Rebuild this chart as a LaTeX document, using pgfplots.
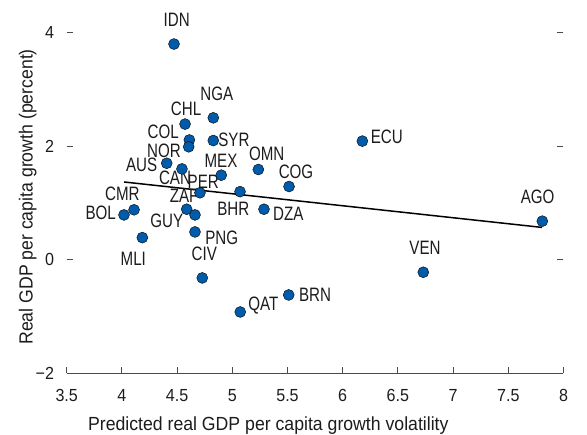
\documentclass[border=0pt]{standalone}
\usepackage{fontspec}
\setmainfont{Liberation Sans}
\newfontfamily\lblfont{Liberation Sans}[FakeStretch=0.78]
\newfontfamily\axlblfont{Liberation Sans}[FakeStretch=0.93]
\newfontfamily\tickfont{Liberation Sans}[FakeStretch=0.92]
\usepackage{pgfplots}
\pgfplotsset{compat=1.18}
\definecolor{dotblue}{RGB}{0,91,170}
\definecolor{txt}{RGB}{30,27,28}
\definecolor{axgray}{RGB}{75,75,75}
\newcommand{\lbl}[3]{\node[font=\lblfont\fontsize{19.4}{21}\selectfont, text=txt, inner sep=0pt] at (axis cs:#1,#2) {#3};}
\begin{document}
\begin{tikzpicture}
\path[use as bounding box] (-66.7pt,-61.7pt) rectangle (520.3pt,373.3pt);
\begin{axis}[
  scale only axis, width=496.8pt, height=369pt,
  xmin=3.5, xmax=8, ymin=-2, ymax=4.5,
  clip=false,
  axis x line=bottom, axis y line=box,
  x axis line style={-, draw=axgray, line width=1.2pt},
  y axis line style={draw=none},
  tick align=inside, major tick length=6pt,
  tick style={axgray, line width=1.1pt},
  xtick={3.5,4,4.5,5,5.5,6,6.5,7,7.5,8},
  xticklabels={3.5,4,4.5,5,5.5,6,6.5,7,7.5,8},
  ytick={-2,0,2,4}, yticklabels={{−2},0,2,4},
  xticklabel style={anchor=base, inner sep=0pt, yshift=-28.5pt, font=\tickfont\fontsize{17.5}{19}\selectfont, text=txt},
  yticklabel style={anchor=east, inner sep=0pt, xshift=-12.4pt, font=\tickfont\fontsize{17.5}{19}\selectfont, text=txt},
  every axis x label/.style={at={(axis description cs:0.4058,-0.1537)}, anchor=base, font=\axlblfont\fontsize{19}{21}\selectfont, text=txt, inner sep=0pt},
  every axis y label/.style={at={(axis description cs:-0.0684,0.478)}, rotate=90, anchor=base, font=\axlblfont\fontsize{19}{21}\selectfont, text=txt, inner sep=0pt},
  xlabel={Predicted real GDP per capita growth volatility},
  ylabel={Real GDP per capita growth (percent)},
]
\addplot[black, line width=1.5pt] coordinates {(4.019,1.37) (7.805,0.57)};
\addplot[only marks, mark=*, mark size=5.5pt, mark options={draw=none, fill=dotblue}] table {
x y
4.472 3.80
4.828 2.50
4.572 2.39
4.611 2.11
4.605 1.99
4.828 2.10
4.406 1.70
4.544 1.60
4.900 1.49
5.236 1.59
5.514 1.29
4.707 1.18
5.070 1.20
4.110 0.88
4.019 0.79
4.587 0.89
4.662 0.79
5.287 0.89
4.185 0.39
4.662 0.49
4.728 -0.32
5.072 -0.92
5.511 -0.62
6.178 2.09
7.808 0.68
6.730 -0.22
};
\lbl{4.496}{4.22}{IDN}
\lbl{4.859}{2.92}{NGA}
\lbl{4.581}{2.66}{CHL}
\lbl{4.375}{2.25}{COL}
\lbl{4.381}{1.92}{NOR}
\lbl{5.015}{2.11}{SYR}
\lbl{4.179}{1.67}{AUS}
\lbl{4.481}{1.44}{CAN}
\lbl{4.898}{1.74}{MEX}
\lbl{5.312}{1.86}{OMN}
\lbl{5.577}{1.55}{COG}
\lbl{4.737}{1.37}{PER}
\lbl{4.563}{1.12}{ZAF}
\lbl{4.004}{1.17}{CMR}
\lbl{3.808}{0.82}{BOL}
\lbl{4.406}{0.69}{GUY}
\lbl{5.009}{0.89}{BHR}
\lbl{5.507}{0.81}{DZA}
\lbl{4.103}{0.01}{MLI}
\lbl{4.904}{0.39}{PNG}
\lbl{4.746}{0.10}{CIV}
\lbl{5.281}{-0.81}{QAT}
\lbl{5.749}{-0.62}{BRN}
\lbl{6.399}{2.17}{ECU}
\lbl{7.766}{1.11}{AGO}
\lbl{6.746}{0.21}{VEN}
\end{axis}
\end{tikzpicture}
\end{document}
